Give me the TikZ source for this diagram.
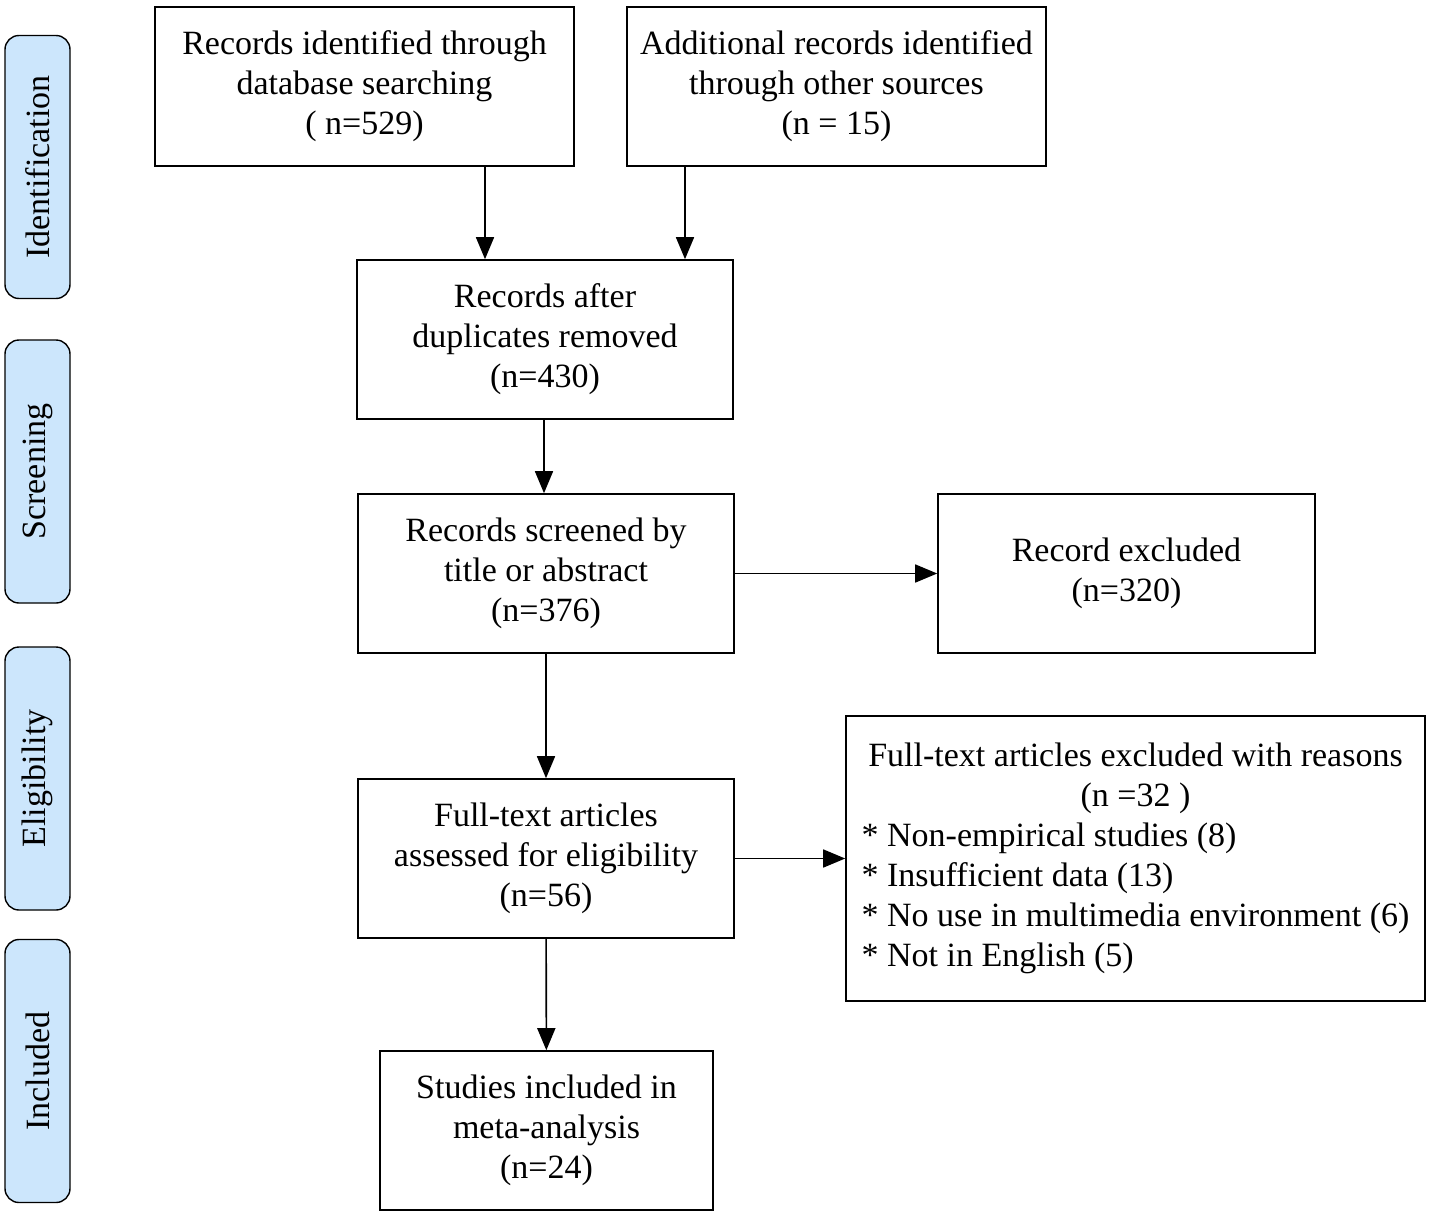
\documentclass[tikz,border=0pt]{standalone}
\usepackage{fontspec}
\setmainfont{Liberation Serif}
\usetikzlibrary{arrows.meta}
\definecolor{phaseblue}{RGB}{204,230,252}
\tikzset{
  box/.style={draw, line width=1.6pt, inner sep=0pt, align=center, minimum height=159pt},
  phase/.style={draw, line width=1.4pt, fill=phaseblue, rounded corners=14pt, rotate=90,
    minimum width=263pt, minimum height=65pt, inner sep=0pt},
  arr/.style={-{Triangle[length=22pt,width=18pt]}, line width=1.6pt}
}
\begin{document}
\begin{tikzpicture}[x=1pt, y=-1pt, font=\fontsize{34}{40}\selectfont]
    \useasboundingbox (0,0) rectangle (1429,1212);
    % phases on the left
    \node[phase] (ident) at (37.5,167) {Identification};
    \node[phase] (screening) at (37.5,471.5) {Screening};
    \node[phase] (elig) at (37.5,778.5) {Eligibility};
    \node[phase] (incl) at (37.5,1071) {Included};
    % boxes
    \node[box, minimum width=419pt] (db) at (364.5,86.5) {Records identified through\\database searching\\( n=529)};
    \node[box, minimum width=419pt] (other) at (836.5,86.5) {Additional records identified\\through other sources\\(n = 15)};
    \node[box, minimum width=376pt] (dup) at (545,339.5) {Records after\\duplicates removed\\(n=430)};
    \node[box, minimum width=376pt] (screen) at (546,573.5) {Records screened by\\title or abstract\\(n=376)};
    \node[box, minimum width=377pt] (excl) at (1126.5,573.5) {Record excluded\\(n=320)};
    \node[box, minimum width=376pt] (full) at (546,858.5) {Full-text articles\\assessed for eligibility\\(n=56)};
    \node[box, minimum width=579pt, minimum height=285pt] (fexcl) at (1135.5,858.5) {%
      \begin{tabular}{@{}l@{}}
        \multicolumn{1}{@{}c@{}}{Full-text articles excluded with reasons}\\
        \multicolumn{1}{@{}c@{}}{(n =32 )}\\
        {*} Non-empirical studies (8)\\
        {*} Insufficient data (13)\\
        {*} No use in multimedia environment (6)\\
        {*} Not in English (5)
      \end{tabular}};
    \node[box, minimum width=333pt] (meta) at (546.5,1130.5) {Studies included in\\meta-analysis\\(n=24)};
    % arrows
    \draw[arr] ([xshift=120.5pt]db.south) -- ([xshift=120.5pt]db.south |- dup.north);
    \draw[arr] ([xshift=-151.5pt]other.south) -- ([xshift=-151.5pt]other.south |- dup.north);
    \draw[arr] ([xshift=-1pt]dup.south) -- ([xshift=-1pt]dup.south |- screen.north);
    \draw[arr] (screen) -- (excl);
    \draw[arr] (screen) -- (full);
    \draw[arr] (full) -- (fexcl);
    \draw[arr] (full) -- (meta);
\end{tikzpicture}
\end{document}
